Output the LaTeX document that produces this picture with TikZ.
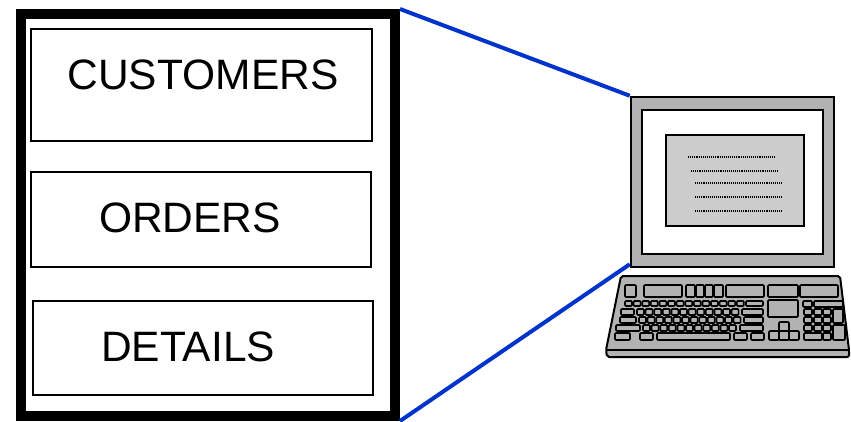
\documentclass[tikz,border=0pt]{standalone}
\usepackage{fontspec}
\setmainfont{Liberation Sans}
\usetikzlibrary{calc}
\definecolor{Wire}{HTML}{0033CC}
\definecolor{Case}{HTML}{B2B2B2}
\definecolor{Screen}{HTML}{CCCCCC}
\tikzset{tbl/.style={draw,line width=1.6pt,inner sep=0pt},tname/.style={font=\fontsize{42.5}{50}\selectfont,inner sep=0pt},wire/.style={draw=Wire,line width=4pt},key/.style={draw,fill=Case,line width=1.7pt,rounded corners=1pt},panel/.style={draw,inner sep=0pt}}
\begin{document}
\begin{tikzpicture}[x=1pt,y=-1pt]
      \useasboundingbox (0,0) rectangle (851,421);
      % database with its three tables
      \node[draw,line width=10pt,minimum width=374pt,minimum height=402pt,inner sep=0pt](db) at (208,215){};
      \node[tbl,minimum width=341pt,minimum height=112pt](customers) at (201.5,85){};
      \node[tbl,minimum width=340pt,minimum height=95pt](orders) at (201,219.5){};
      \node[tbl,minimum width=340pt,minimum height=94pt](details) at (203,348){};
      \node[tname](customersname) at (203,75){CUSTOMERS};
      \node[tname](ordersname) at (190,218){ORDERS};
      \node[tname](detailsname) at (188,347){DETAILS};
      % monitor
      \node[panel,fill=Case,line width=2.5pt,minimum width=203pt,minimum height=170pt](monitor) at (732.5,182){};
      \node[panel,fill=white,line width=2.2pt,minimum width=181pt,minimum height=144pt](bezel) at (732.5,182){};
      \node[panel,fill=Screen,line width=2pt,minimum width=138pt,minimum height=91pt](screen) at (735,180.5){};
      \foreach \y/\a/\b in {157/688/775,171/691/779,183/695/782,197/695/782,211/695/782}
        \draw[densely dotted,line width=1.1pt](\a,\y)--(\b,\y);
      \draw[wire](db.north east)--(monitor.north west);\draw[wire](db.south east)--([yshift=4pt]monitor.south west);
      % keyboard
      \draw[fill=Case,line width=2pt,rounded corners=2pt](621,276)--(840,276)--(849,350)--(849,357)--(607,357)--(606,350)--cycle;
      \draw[line width=2pt](606,350)--(849,350);
      \foreach \a/\b/\c/\d in {625/285/636/297,644/285/682/297,686/285/695/297,696/285/704/297,705/285/713/297,714/285/723/297,726/285/764/297,768/285/798/297,800/285/838/297,
        746/301/763/306,621/309/634/315,742/309/763/315,620/317/636/323,744/317/763/323,616/325/640/331,740/325/763/331,
        615/333/630/340,640/333/653/340,657/333/730/340,734/333/747/340,751/333/764/340,
        768/300/798/317,779/322/789/331,769/331/779/340,779/331/789/340,789/331/799/340,
        803/301/812/307,814/301/843/307,833/309/843/323,833/325/845/340,804/333/822/340,823/333/831/340}
        \draw[key](\a,\b) rectangle (\c,\d);
      \foreach \i in {0,...,13} \draw[key]({625+\i*8.6},301) rectangle +(7,5);
      \foreach \i in {0,...,11} \draw[key]({637+\i*8.6},309) rectangle +(7,6);
      \foreach \i in {0,...,11} \draw[key]({639+\i*8.6},317) rectangle +(7,6);
      \foreach \i in {0,...,10} \draw[key]({643+\i*8.6},325) rectangle +(7,6);
      \foreach \y in {309,317,325} \foreach \x in {804,814,823} \draw[key](\x,\y) rectangle +(8,6);
    \end{tikzpicture}
\end{document}
